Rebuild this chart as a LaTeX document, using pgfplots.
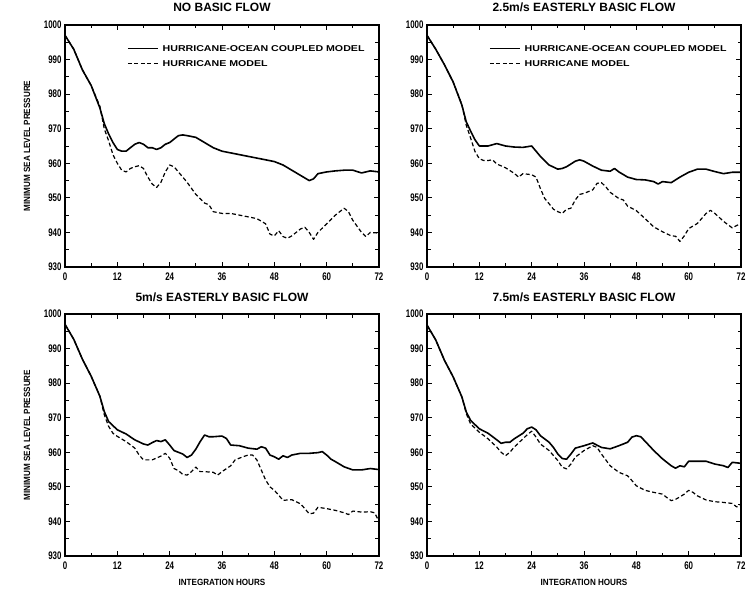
\documentclass[border=0pt]{standalone}
\usepackage{fontspec}
\setmainfont{Liberation Sans}
\newfontfamily\tickfont[FakeStretch=0.72]{Liberation Sans}
\newfontfamily\legfont[FakeStretch=1.25]{Liberation Sans}
\newfontfamily\labfont[FakeStretch=0.9]{Liberation Sans}
\usepackage{pgfplots}
\pgfplotsset{compat=1.18}

\pgfplotstableread{
t p
0 997
2 993
4 987
6 982.5
8 976
9 971.5
10 968.5
11 966
12 964
13 963.5
14 963.5
15 964.5
16 965.5
17 966
18 965.5
19 964.5
20 964.5
21 964
22 964.5
23 965.5
24 966
26 968
27 968.2
28 968
30 967.5
32 966
34 964.5
36 963.5
38 963
40 962.5
42 962
44 961.5
46 961
48 960.5
50 959.5
52 958
54 956.5
56 955
57 955.5
58 957
60 957.5
62 957.8
64 958
66 958
68 957.2
70 957.8
72 957.5
}\Acoupled
\pgfplotstableread{
t p
0 997
2 993
4 987
6 982.5
8 976.5
9 970
10 966.5
11 962.5
12 960
13 958
14 957.5
15 958.5
16 959
17 959.3
18 958.5
19 956
20 954
21 953
22 954.5
23 957.5
24 959.5
25 959
26 957.5
28 954.5
30 951
32 948.5
33 948
34 946
36 945.5
38 945.5
40 945
42 944.5
44 944
46 942.5
47 939.5
48 939
49 940.5
50 938.8
51 938.3
52 939
54 941
55 941.5
56 940
57 938
58 940
60 942.5
62 945
64 947
65 946
66 943.5
68 940
69 938.8
70 940
72 939.8
}\Ahurr
\pgfplotstableread{
t p
0 997
2 993
4 988.5
6 983.5
8 976.8
9 972
10 969.3
11 966.8
12 965
14 965
16 965.7
18 965
20 964.7
22 964.6
24 965
25 963.5
26 962
28 959.5
30 958.3
31 958.5
32 959
34 960.6
35 961
36 960.6
38 959.2
40 958
42 957.7
43 958.5
44 957.5
46 956
48 955.3
50 955.2
52 954.7
53 954
54 954.7
56 954.4
58 956
60 957.4
62 958.3
64 958.3
66 957.6
68 957
70 957.4
72 957.4
}\Bcoupled
\pgfplotstableread{
t p
0 997
2 993
4 988.5
6 983.5
8 977
9 971
10 967.3
11 963.4
12 961.3
13 960.8
14 960.8
15 961
16 959.8
18 958.7
20 957.1
21 956
22 957
24 956.7
25 956
26 952.7
27 949.8
28 948.3
29 946.7
30 946
31 945.5
32 946.7
33 947
34 949.4
35 951
36 951.3
38 952.3
39 954.2
40 954.4
41 953.2
42 951.6
44 949.8
45 949.4
46 947.6
48 946.3
50 944
52 941.6
54 940.2
56 939
57 938.9
58 937.4
59 939
60 941.1
62 942.6
64 945.5
65 946.4
66 945.5
68 943.2
70 941.3
71 942
72 942.6
}\Bhurr
\pgfplotstableread{
t p
0 997
2 992.7
4 986.9
6 982
8 976.2
9 971.8
10 968.9
12 966.5
14 965.3
16 963.6
18 962.4
19 962.1
20 962.8
21 963.4
22 963.1
23 963.6
24 962.1
25 960.5
26 960
27 959.5
28 958.5
29 959.2
30 960.9
31 963.1
32 965
33 964.5
34 964.5
36 964.7
37 964
38 962.1
40 961.9
42 961.2
44 960.9
45 961.6
46 961.2
47 959.2
48 958.7
49 958
50 959
51 958.5
52 959.2
54 959.7
56 959.7
58 959.9
59 960.2
60 959.2
61 958
62 957.3
64 955.8
66 954.9
68 954.9
70 955.3
72 955
}\Ccoupled
\pgfplotstableread{
t p
0 997
2 992.7
4 986.9
6 982
8 976.2
9 970.9
10 967.5
11 965.5
12 964.6
14 963.1
16 961.2
17 959.2
18 957.8
20 957.8
22 958.9
23 959.7
24 958.3
25 955.3
26 954.7
27 953.6
28 953.4
29 954.4
30 955.7
31 954.4
32 954.4
34 954.2
35 953.4
36 954.4
38 956.1
39 957.8
40 958.3
41 958.8
42 959.2
43 959.2
44 957.8
45 954.9
46 952
47 950
48 949
49 947.6
50 946.1
52 946.3
54 945.1
55 943.7
56 942.2
57 942.4
58 944.1
60 943.7
62 943.2
64 942.5
65 942
66 943
68 942.7
70 942.8
71 942.5
72 940
}\Churr
\pgfplotstableread{
t p
0 996.8
2 992.5
4 986.6
6 981.8
8 976
9 971.7
10 969.2
12 966.8
14 965.5
16 963.6
17 962.6
18 962.9
19 962.9
20 963.9
22 965.5
23 966.8
24 967.3
25 966.5
26 964.8
28 962.9
29 961.4
30 959.5
31 958.2
32 958
33 959.5
34 961.2
36 961.9
38 962.7
40 961.4
42 961
44 961.9
46 962.9
47 964.4
48 964.8
49 964.5
50 963.2
52 960.5
54 958.1
56 956.1
57 955.4
58 956.1
59 955.8
60 957.4
62 957.4
64 957.4
66 956.6
68 956.1
69 955.6
70 957.1
72 956.8
}\Dcoupled
\pgfplotstableread{
t p
0 996.8
2 992.5
4 986.6
6 981.8
8 976
9 971.2
10 968.2
12 965.8
14 963.9
16 961.5
17 960
18 959
19 960
20 961.5
22 963.9
23 965.1
24 966.1
25 964.4
26 962.4
28 960.5
30 957.6
31 955.7
32 955.2
33 956.6
34 958.6
36 960.5
38 961.9
39 961.4
40 959.5
42 956.1
44 954.2
46 953.2
47 951.8
48 950.3
50 949
52 948.4
54 947.9
55 946.9
56 946
57 946.4
58 947.1
59 947.9
60 949
61 948.4
62 947.4
64 946.2
66 945.7
68 945.5
70 945.2
71 944.2
72 944.8
}\Dhurr

\pgfplotsset{
  panel/.style={
    scale only axis, width=314pt, height=242pt,
    anchor=south west,
    xmin=0, xmax=72, ymin=930, ymax=1000,
    xtick={0,12,...,72}, ytick={930,940,...,1000},
    minor x tick num=1, minor y tick num=1,
    tick align=inside,
    major tick length=5pt, minor tick length=3.5pt,
    axis line style={line width=1.3pt},
    tick style={line width=0.9pt, black},
    /pgf/number format/assume math mode=true,
    /pgf/number format/set thousands separator={},
    ticklabel style={font=\tickfont\bfseries\fontsize{11}{11}\selectfont},
    xticklabel style={yshift=-2pt},
    title style={font=\bfseries\fontsize{12}{14}\selectfont, at={(0.5,1)}, anchor=base, yshift=7pt, inner sep=0pt},
    ylabel style={font=\labfont\bfseries\fontsize{9}{9}\selectfont, at={(axis description cs:-0.121,0.5)}, anchor=center},
    xlabel style={font=\labfont\bfseries\fontsize{9}{9}\selectfont, at={(axis description cs:0.5,-0.11)}, anchor=center},
    legend style={at={(axis description cs:0.197,0.921)}, anchor=north west, draw=none, fill=none, inner sep=0pt,
      font=\legfont\bfseries\fontsize{8.5}{8.5}\selectfont, row sep=7pt,
      nodes={inner sep=1pt, text height=6pt, text depth=0pt},
      /tikz/every odd column/.append style={column sep=3pt}},
    legend cell align=left,
    legend image code/.code={\draw[##1] (0pt,0pt) -- (30pt,0pt);},
  },
  coupled/.style={black, line width=1.6pt, line join=round},
  hurr/.style={black, line width=1.2pt, dash pattern=on 4pt off 2.5pt, line join=round},
}

\begin{document}
\begin{tikzpicture}
\path[use as bounding box] (0pt,0pt) rectangle (751pt,591pt);
\begin{axis}[panel, at={(65pt,324pt)}, title={NO BASIC FLOW}, ylabel={MINIMUM SEA LEVEL PRESSURE}]
\addplot[coupled] table[x=t,y=p] {\Acoupled};
\addlegendentry{HURRICANE-OCEAN COUPLED MODEL}
\addplot[hurr] table[x=t,y=p] {\Ahurr};
\addlegendentry{HURRICANE MODEL}
\end{axis}
\begin{axis}[panel, at={(427pt,324pt)}, title={2.5m/s EASTERLY BASIC FLOW}]
\addplot[coupled] table[x=t,y=p] {\Bcoupled};
\addlegendentry{HURRICANE-OCEAN COUPLED MODEL}
\addplot[hurr] table[x=t,y=p] {\Bhurr};
\addlegendentry{HURRICANE MODEL}
\end{axis}
\begin{axis}[panel, at={(65pt,35pt)}, title={5m/s EASTERLY BASIC FLOW}, ylabel={MINIMUM SEA LEVEL PRESSURE}, xlabel={INTEGRATION HOURS}]
\addplot[coupled] table[x=t,y=p] {\Ccoupled};
\addplot[hurr] table[x=t,y=p] {\Churr};
\end{axis}
\begin{axis}[panel, at={(427pt,35pt)}, title={7.5m/s EASTERLY BASIC FLOW}, xlabel={INTEGRATION HOURS}]
\addplot[coupled] table[x=t,y=p] {\Dcoupled};
\addplot[hurr] table[x=t,y=p] {\Dhurr};
\end{axis}
\end{tikzpicture}
\end{document}
